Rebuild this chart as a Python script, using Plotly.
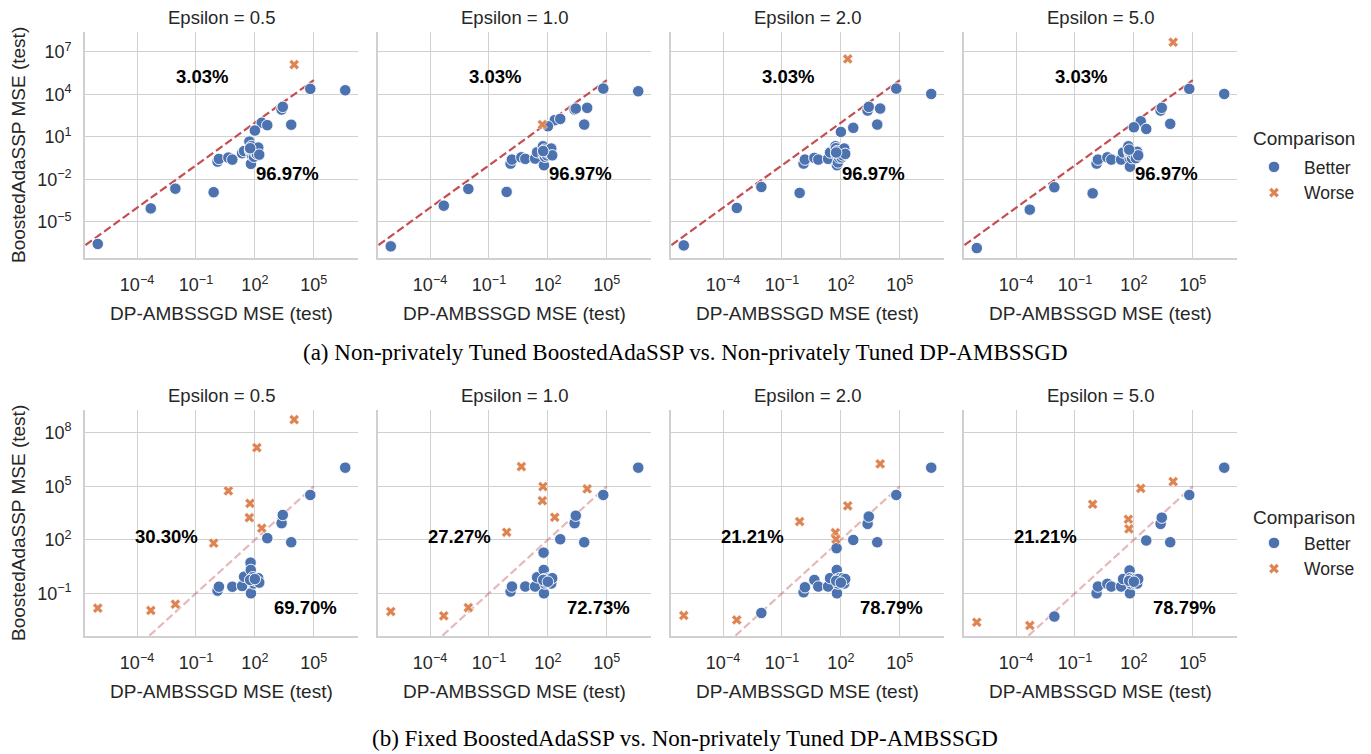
import plotly.graph_objects as go

# ---------------- data (log10 of test MSE) ----------------
epsilons = ["0.5", "1.0", "2.0", "5.0"]

# DP-AMBSSGD test MSE (log10) for the 33 datasets (shared by all panels)
ambssgd_log10 = [-6.0, -3.3, -2.05, -0.1, 0.1, 0.17, 0.65, 0.85, 1.35, 1.45, 1.72,
                 1.75, 1.78, 1.79, 1.8, 1.82, 1.85, 1.9, 1.95, 2.04, 2.1, 2.17,
                 2.22, 2.35, 2.63, 3.36, 3.42, 3.85, 4.0, 4.82, 6.6, 1.76, 2.0]

# (a) Non-privately tuned BoostedAdaSSP test MSE (log10)
tuned_eps05 = [-6.55, -4.04, -2.65, -2.9, -0.74, -0.55, -0.46, -0.6, -0.15, 0.0, 0.67,
               0.1, -0.04, 0.0, -0.9, 0.35, -0.3, -0.1, -0.4, -0.15, -0.2, 0.25,
               -0.25, 2.0, 1.83, 2.93, 3.12, 1.86, 6.1, 4.39, 4.29, 0.2, 1.45]
tuned_eps10 = [-6.72, -3.85, -2.67, -2.88, -0.88, -0.6, -0.44, -0.55, -0.53, -0.08, 1.87,
               0.34, 0.0, -0.3, -1.0, 0.1, -0.4, -0.2, -0.3, -0.15, -0.1, 0.18,
               -0.3, 2.18, 2.27, 2.93, 3.0, 1.87, 3.05, 4.41, 4.22, 0.0, 1.75]
tuned_eps20 = [-6.65, -4.01, -2.53, -2.95, -0.88, -0.6, -0.48, -0.6, -0.55, -0.1, 0.34,
               0.2, -0.2, -0.3, -1.0, 0.0, -0.8, -0.45, -0.3, -0.45, -0.3, 0.18,
               -0.2, 6.5, 1.64, 2.86, 3.12, 1.87, 3.0, 4.41, 4.03, -0.1, 1.35]
tuned_eps50 = [-6.84, -4.13, -2.55, -2.98, -0.88, -0.6, -0.44, -0.6, -0.6, -0.1, 0.34,
               0.0, -0.1, -0.5, -1.1, -0.1, -0.3, -0.5, -0.2, -0.05, -0.5, -0.05,
               -0.3, 2.1, 1.56, 2.86, 3.05, 1.92, 7.68, 4.39, 4.03, 0.1, 1.68]

# (b) Fixed BoostedAdaSSP test MSE (log10)
fixed_eps05 = [-1.83, -1.96, -1.61, 1.81, -0.85, -0.63, 4.74, -0.63, -0.59, -0.07, 3.24,
               4.04, 0.72, 0.31, -1.0, -0.2, -0.35, -0.1, -0.45, -0.3, 7.16, -0.15,
               -0.4, 2.65, 2.09, 2.93, 3.39, 1.86, 8.73, 4.51, 6.04, -0.25, -0.2]
fixed_eps10 = [-2.02, -2.26, -1.8, 2.42, -0.9, -0.62, 6.1, -0.62, -0.62, -0.1, 4.19,
               4.98, 1.28, 0.31, -1.0, -0.2, -0.45, -0.3, -0.4, -0.15, -0.2, -0.45,
               -0.15, 3.26, 2.03, 2.93, 3.35, 1.86, 4.85, 4.51, 6.04, -0.25, -0.35]
fixed_eps20 = [-2.24, -2.49, -2.1, 3.02, -0.94, -0.66, -0.25, -0.62, -0.62, -0.15, 2.4,
               2.03, 1.53, 0.31, -1.0, -0.2, -0.45, -0.3, -0.15, -0.4, -0.15, -0.45,
               -0.2, 3.9, 1.99, 2.89, 3.3, 1.86, 6.25, 4.51, 6.04, -0.3, -0.4]
fixed_eps50 = [-2.62, -2.8, -2.3, 3.99, -1.0, -0.62, -0.47, -0.62, -0.62, -0.2, 3.15,
               2.61, 0.28, -0.2, -1.0, -0.15, -0.45, -0.3, -0.2, -0.45, -0.2, -0.45,
               -0.2, 4.88, 1.96, 2.89, 3.24, 1.86, 5.26, 4.51, 6.04, -0.3, -0.35]

# y = x reference line span
diag_span = [1e-9, 1e5]

x_tickvals = [1e-4, 1e-1, 1e2, 1e5]
x_ticktext = ["10<sup>−4</sup>", "10<sup>−1</sup>", "10<sup>2</sup>", "10<sup>5</sup>"]
y_tickvals_a = [1e-5, 1e-2, 1e1, 1e4, 1e7]
y_ticktext_a = ["10<sup>−5</sup>", "10<sup>−2</sup>", "10<sup>1</sup>", "10<sup>4</sup>", "10<sup>7</sup>"]
y_tickvals_b = [1e-1, 1e2, 1e5, 1e8]
y_ticktext_b = ["10<sup>−1</sup>", "10<sup>2</sup>", "10<sup>5</sup>", "10<sup>8</sup>"]

caption_a = "(a) Non-privately Tuned BoostedAdaSSP vs. Non-privately Tuned DP-AMBSSGD"
caption_b = "(b) Fixed BoostedAdaSSP vs. Non-privately Tuned DP-AMBSSGD"

rows = [
    dict(ys=[tuned_eps05, tuned_eps10, tuned_eps20, tuned_eps50],
         yrange=[-7.54, 8.4], tv=y_tickvals_a, tt=y_ticktext_a,
         line_color="rgba(196,78,82,1.0)", legend="legend",
         up_pos=(0.43, 0.805), low_pos=(0.74, 0.376)),
    dict(ys=[fixed_eps05, fixed_eps10, fixed_eps20, fixed_eps50],
         yrange=[-3.39, 9.27], tv=y_tickvals_b, tt=y_ticktext_b,
         line_color="rgba(196,78,82,0.4)", legend="legend2",
         up_pos=(0.30, 0.44), low_pos=(0.806, 0.128)),
]

# ---------------- layout geometry (pixels) ----------------
W, H = 1371, 754
col_left = [85, 378, 671, 964]
pw = 273
row_top = [32, 410]
ph = 226
legend_title_y = [138, 517]
legend_top_y = [149, 525]

FONT = "Liberation Sans, Arial, sans-serif"
TXT = "#262626"
BLUE = "#4c72b0"
ORANGE = "#dd8452"
GRID = "#d0d0d0"

fig = go.Figure()
annotations = []
layout_axes = {}

k = 0
for r, row in enumerate(rows):
    for c in range(4):
        k += 1
        xa = "x" if k == 1 else f"x{k}"
        ya = "y" if k == 1 else f"y{k}"
        xs = [10 ** v for v in ambssgd_log10]
        ys = [10 ** v for v in row["ys"][c]]
        better_x = [a for a, b in zip(xs, ys) if b <= a]
        better_y = [b for a, b in zip(xs, ys) if b <= a]
        worse_x = [a for a, b in zip(xs, ys) if b > a]
        worse_y = [b for a, b in zip(xs, ys) if b > a]
        n = len(xs)
        pct_worse = 100.0 * len(worse_x) / n
        pct_better = 100.0 * len(better_x) / n

        fig.add_trace(go.Scatter(
            x=diag_span, y=diag_span, mode="lines", xaxis=xa, yaxis=ya,
            line=dict(color=row["line_color"], width=2.2, dash="8px,3.5px"),
            showlegend=False, hoverinfo="skip"))
        fig.add_trace(go.Scatter(
            x=better_x, y=better_y, mode="markers", name="Better", xaxis=xa, yaxis=ya,
            marker=dict(symbol="circle", size=11.5, color=BLUE,
                        line=dict(color="white", width=0.9)),
            legend=row["legend"], showlegend=(c == 0)))
        fig.add_trace(go.Scatter(
            x=worse_x, y=worse_y, mode="markers", name="Worse", xaxis=xa, yaxis=ya,
            marker=dict(symbol="x", size=9, color=ORANGE,
                        line=dict(color="white", width=0.5)),
            legend=row["legend"], showlegend=(c == 0)))

        x0 = col_left[c] / W
        x1 = (col_left[c] + pw) / W
        y1 = 1 - row_top[r] / H
        y0 = 1 - (row_top[r] + ph) / H
        xkey = "xaxis" if k == 1 else f"xaxis{k}"
        ykey = "yaxis" if k == 1 else f"yaxis{k}"
        layout_axes[xkey] = dict(
            type="log", range=[-6.65, 7.25], domain=[x0, x1], anchor=ya,
            tickvals=x_tickvals, ticktext=x_ticktext, ticks="",
            showgrid=True, gridcolor=GRID, gridwidth=1.4,
            showline=True, linecolor=GRID, linewidth=1.6, zeroline=False,
            tickfont=dict(family=FONT, size=18, color=TXT), ticklabelstandoff=10)
        layout_axes[ykey] = dict(
            type="log", range=row["yrange"], domain=[y0, y1], anchor=xa,
            tickvals=row["tv"], ticktext=row["tt"], ticks="",
            showticklabels=(c == 0),
            showgrid=True, gridcolor=GRID, gridwidth=1.4,
            showline=True, linecolor=GRID, linewidth=1.6, zeroline=False,
            tickfont=dict(family=FONT, size=18, color=TXT), ticklabelstandoff=8)

        # subplot title
        annotations.append(dict(
            text=f"Epsilon = {epsilons[c]}", xref="paper", yref="paper",
            x=(col_left[c] + pw / 2) / W, y=1 - (row_top[r] - 14) / H,
            xanchor="center", yanchor="middle", showarrow=False,
            font=dict(family=FONT, size=18.5, color=TXT)))
        # x axis title
        annotations.append(dict(
            text="DP-AMBSSGD MSE (test)", xref="paper", yref="paper",
            x=(col_left[c] + pw / 2) / W, y=1 - (row_top[r] + ph + 55) / H,
            xanchor="center", yanchor="middle", showarrow=False,
            font=dict(family=FONT, size=19, color=TXT)))
        # percentages
        annotations.append(dict(
            text=f"<b>{pct_worse:.2f}%</b>", xref=f"{xa} domain", yref=f"{ya} domain",
            x=row["up_pos"][0], y=row["up_pos"][1], xanchor="center", yanchor="middle",
            showarrow=False, font=dict(family=FONT, size=18.5, color="black")))
        annotations.append(dict(
            text=f"<b>{pct_better:.2f}%</b>", xref=f"{xa} domain", yref=f"{ya} domain",
            x=row["low_pos"][0], y=row["low_pos"][1], xanchor="center", yanchor="middle",
            showarrow=False, font=dict(family=FONT, size=18.5, color="black")))

    # y axis title
    annotations.append(dict(
        text="BoostedAdaSSP MSE (test)", xref="paper", yref="paper",
        x=18 / W, y=1 - (row_top[r] + ph / 2) / H, textangle=-90,
        xanchor="center", yanchor="middle", showarrow=False,
        font=dict(family=FONT, size=19, color=TXT)))
    # legend title
    annotations.append(dict(
        text="Comparison", xref="paper", yref="paper",
        x=1251 / W, y=1 - legend_title_y[r] / H,
        xanchor="left", yanchor="middle", showarrow=False,
        font=dict(family=FONT, size=19, color=TXT)))

# captions
annotations.append(dict(
    text=caption_a, xref="paper", yref="paper", x=685 / W, y=1 - 352 / H,
    xanchor="center", yanchor="middle", showarrow=False,
    font=dict(family="Liberation Serif, Times New Roman, serif", size=23, color="black")))
annotations.append(dict(
    text=caption_b, xref="paper", yref="paper", x=685 / W, y=1 - 738 / H,
    xanchor="center", yanchor="middle", showarrow=False,
    font=dict(family="Liberation Serif, Times New Roman, serif", size=23, color="black")))

legend_common = dict(
    xanchor="left", yanchor="top", bgcolor="rgba(0,0,0,0)",
    font=dict(family=FONT, size=17.5, color=TXT), itemwidth=50, tracegroupgap=0)

fig.update_layout(
    width=W, height=H, margin=dict(l=0, r=0, t=0, b=0),
    paper_bgcolor="white", plot_bgcolor="white",
    showlegend=True,
    legend=dict(x=1244 / W, y=1 - legend_top_y[0] / H, **legend_common),
    legend2=dict(x=1244 / W, y=1 - legend_top_y[1] / H, **legend_common),
    annotations=annotations,
    **layout_axes)

fig.write_html("out.html")
